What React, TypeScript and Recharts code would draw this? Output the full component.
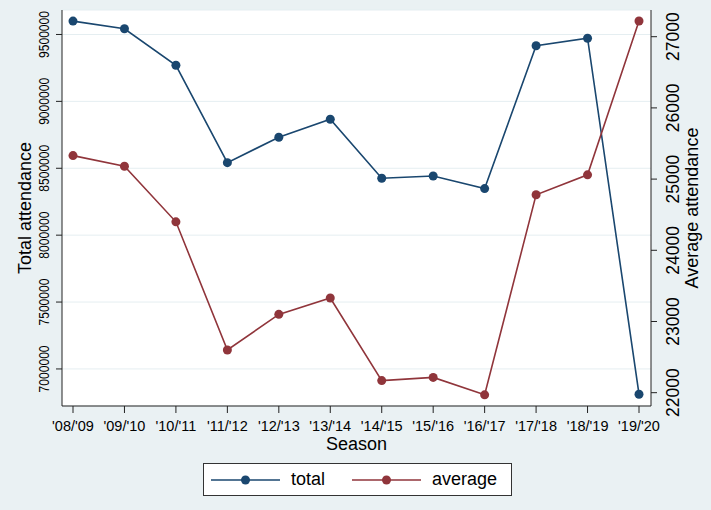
import { LineChart, Line, XAxis, YAxis, CartesianGrid, Label } from "recharts";

const seasons = ["'08/'09", "'09/'10", "'10/'11", "'11/'12", "'12/'13", "'13/'14", "'14/'15", "'15/'16", "'16/'17", "'17/'18", "'18/'19", "'19/'20"];
const total = [9600000, 9543000, 9270000, 8542000, 8732000, 8866000, 8425000, 8442000, 8348000, 9416000, 9472000, 6811000];
const average = [25330, 25180, 24400, 22600, 23100, 23330, 22170, 22215, 21970, 24780, 25060, 27220];
const leftTicks = [7000000, 7500000, 8000000, 8500000, 9000000, 9500000];
const rightTicks = [22000, 23000, 24000, 25000, 26000, 27000];

const BLUE = "#1a476f";
const RED = "#90353b";
const FONT = "'Liberation Sans', Arial, sans-serif";

const data = seasons.map((s, i) => ({ season: s, total: total[i], average: average[i] }));

function LeftTick(props: any) {
  const { x, y, payload } = props;
  return (
    <text
      x={x}
      y={y}
      transform={`rotate(-90 ${x} ${y})`}
      textAnchor="middle"
      dominantBaseline="central"
      fontSize={15.5}
      fill="#000"
      textLength={47}
      lengthAdjust="spacingAndGlyphs"
    >
      {payload.value}
    </text>
  );
}

function RightTick(props: any) {
  const { x, y, payload } = props;
  return (
    <text
      x={x}
      y={y}
      transform={`rotate(-90 ${x} ${y})`}
      textAnchor="middle"
      dominantBaseline="central"
      fontSize={17.5}
      fill="#000"
    >
      {payload.value}
    </text>
  );
}

function LegendBox() {
  const item = (color: string, text: string) => (
    <div style={{ display: "flex", alignItems: "center" }}>
      <svg width={70} height={12}>
        <line x1={0} y1={6} x2={69} y2={6} stroke={color} strokeWidth={1.6} />
        <circle cx={34.5} cy={6} r={4.5} fill={color} />
      </svg>
      <span style={{ marginLeft: 10, fontSize: 18 }}>{text}</span>
    </div>
  );
  return (
    <div
      style={{
        position: "absolute",
        left: 203,
        top: 463,
        width: 300,
        height: 31,
        background: "#fff",
        border: "1px solid #333",
        display: "flex",
        alignItems: "center",
        paddingLeft: 7,
        boxSizing: "content-box",
        gap: 27,
        fontFamily: FONT,
        color: "#000",
      }}
    >
      {item(BLUE, "total")}
      {item(RED, "average")}
    </div>
  );
}

export default function App() {
  return (
    <div style={{ position: "absolute", left: 0, top: 0, width: 711, height: 510, background: "#eaf1f3", fontFamily: FONT }}>
      <LineChart width={711} height={510} data={data} margin={{ top: 10, right: 0, bottom: 54, left: 0 }}>
        <CartesianGrid yAxisId="left" vertical={false} horizontal stroke="#e5eef1" fill="#ffffff" />
        <XAxis
          dataKey="season"
          height={50}
          padding={{ left: 11, right: 12 }}
          tick={{ fontSize: 14.5, fill: "#000" }}
          tickSize={7}
          tickMargin={8}
          interval={0}
          stroke="#222"
        >
          <Label value="Season" position="insideBottom" offset={6} style={{ fontSize: 18, fill: "#000" }} />
        </XAxis>
        <YAxis
          yAxisId="left"
          orientation="left"
          width={62}
          domain={[6723000, 9683000]}
          ticks={leftTicks}
          allowDataOverflow
          tick={<LeftTick />}
          tickSize={6}
          tickMargin={12}
          stroke="#222"
        >
          <Label
            content={() => (
              <text x={25} y={208} transform="rotate(-90 25 208)" textAnchor="middle" dominantBaseline="central" fontSize={18} fill="#000">
                Total attendance
              </text>
            )}
          />
        </YAxis>
        <YAxis
          yAxisId="right"
          orientation="right"
          width={60}
          domain={[21813, 27375]}
          ticks={rightTicks}
          allowDataOverflow
          tick={<RightTick />}
          tickSize={6}
          tickMargin={16}
          stroke="#222"
        >
          <Label
            content={() => (
              <text x={692} y={208} transform="rotate(-90 692 208)" textAnchor="middle" dominantBaseline="central" fontSize={18} fill="#000">
                Average attendance
              </text>
            )}
          />
        </YAxis>
        <Line
          yAxisId="left"
          type="linear"
          dataKey="total"
          stroke={BLUE}
          strokeWidth={1.6}
          dot={{ r: 4.5, fill: BLUE, stroke: "none" }}
          activeDot={false}
          isAnimationActive={false}
        />
        <Line
          yAxisId="right"
          type="linear"
          dataKey="average"
          stroke={RED}
          strokeWidth={1.6}
          dot={{ r: 4.5, fill: RED, stroke: "none" }}
          activeDot={false}
          isAnimationActive={false}
        />
      </LineChart>
      <LegendBox />
    </div>
  );
}
